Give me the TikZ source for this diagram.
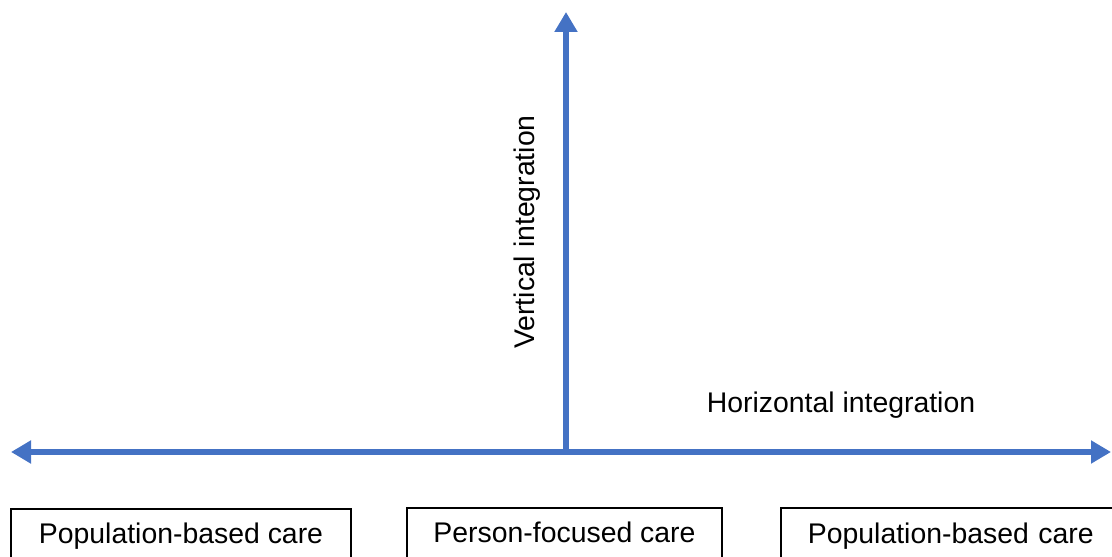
\documentclass[tikz,border=0pt]{standalone}
\usepackage{fontspec}
\setmainfont{Liberation Sans}
\usetikzlibrary{arrows.meta}
\definecolor{axisblue}{HTML}{4472C4}

\begin{document}
\begin{tikzpicture}[x=1pt,y=1pt,
    axis/.style={line width=6pt, axisblue, -{Triangle[length=20pt,width=22pt]}},
    carebox/.style={draw, line width=1.6pt, minimum height=55pt, anchor=north, inner sep=0pt,
        text height=21pt, text depth=6pt},
    lbl/.style={font=\fontsize{28.4}{34}\selectfont}]
    \useasboundingbox (0,0) rectangle (1112,557);
    \clip (0,0) rectangle (1112,557);

    % Axis end points
    \coordinate (L) at (11,105);
    \coordinate (R) at (1111,105);
    \coordinate (O) at (566,105);
    \coordinate (T) at (566,545);

    % Horizontal axis, both ways
    \draw[axis] (O) -- (L);
    \draw[axis] (O) -- (R);

    % Vertical axis
    \draw[axis] (O) -- (T);

    % Axis labels
    \node[lbl, rotate=90] (vlab) at (527,325) {Vertical integration};
    \node[lbl] (hlab) at (841,152) {Horizontal integration};

    % Boxes along the bottom (the right one runs off the page)
    \node[carebox, lbl, minimum width=340pt] (popL) at (181,49) {Population-based care};
    \node[carebox, lbl, minimum width=315pt] (person) at (564.5,50) {Person-focused care};
    \node[carebox, lbl, anchor=north west, text width=400pt, align=left] (popR) at (780,49.5)
        {\makebox[340pt]{Population-based care}};

\end{tikzpicture}
\end{document}
